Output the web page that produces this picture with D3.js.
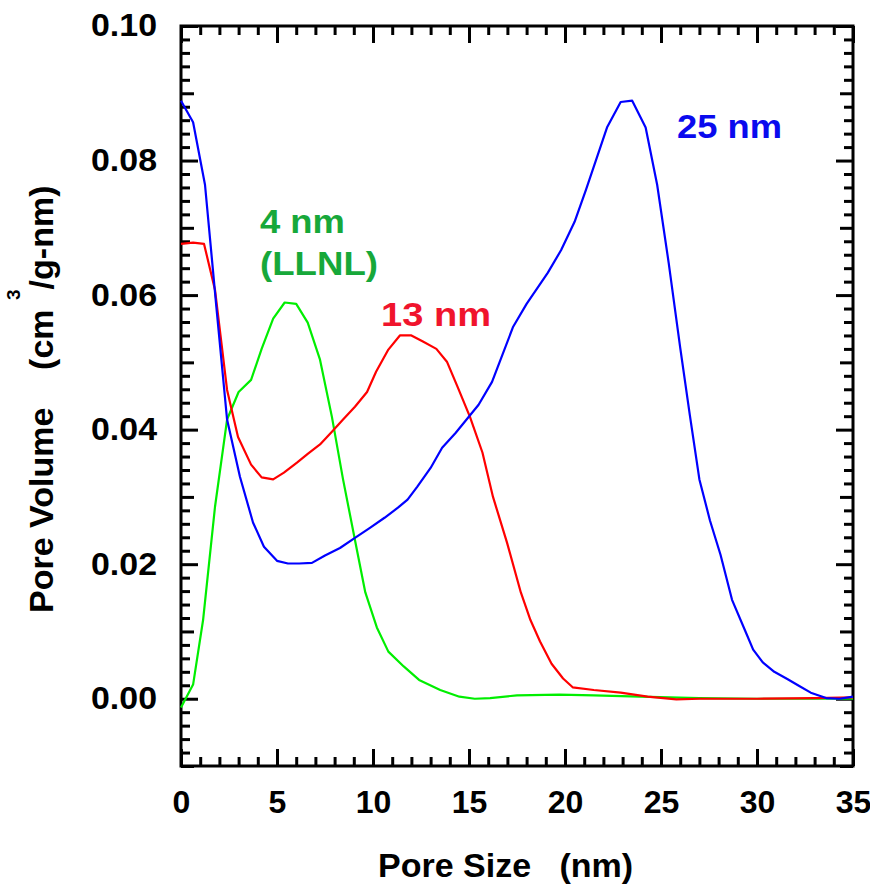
<!DOCTYPE html>
<html>
<head>
<meta charset="utf-8">
<script src="https://cdn.jsdelivr.net/npm/d3@7"></script>
<style>
  body { margin: 0; background: #fff; }
  svg { display: block; font-family: "Liberation Sans", Arial, sans-serif; font-weight: bold; }
</style>
</head>
<body>
<script>
// pore size distributions
const size25 = [0, 0.63, 1.25, 1.85, 2.4, 3.07, 3.75, 4.32, 5.0, 5.57, 6.15, 6.82, 7.5, 8.28, 9.06, 9.84, 10.6, 11.3, 11.8, 12.3, 13.0, 13.6, 14.3, 15.5, 16.2, 17.3, 18.0, 19.1, 19.8, 20.5, 21.1, 22.2, 22.9, 23.5, 24.2, 24.8, 25.4, 26.0, 26.5, 27.0, 27.55, 28.1, 28.7, 29.4, 29.8, 30.3, 30.9, 31.6, 32.2, 32.8, 33.6, 34.3, 35.0]
const vol25 = [0.0889, 0.0857, 0.0764, 0.058, 0.0415, 0.0330, 0.0262, 0.0226, 0.0205, 0.0201, 0.0201, 0.0202, 0.0213, 0.0224, 0.0239, 0.0254, 0.0269, 0.0284, 0.0296, 0.0315, 0.0343, 0.0373, 0.0395, 0.0437, 0.0471, 0.0553, 0.0587, 0.0633, 0.0667, 0.0709, 0.0757, 0.0850, 0.0887, 0.0889, 0.0849, 0.0764, 0.0648, 0.0522, 0.0422, 0.0326, 0.0265, 0.0214, 0.0147, 0.0100, 0.0073, 0.0054, 0.0040, 0.0029, 0.0019, 0.0009, 0.0001, 0.0000, 0.0003]

const size13 = [0, 0.63, 1.2, 1.77, 2.4, 2.97, 3.65, 4.2, 4.8, 5.36, 6.04, 6.6, 7.24, 7.86, 8.44, 9.06, 9.69, 10.16, 10.8, 11.4, 12.0, 12.6, 13.3, 13.85, 14.4, 15.05, 15.7, 16.25, 16.98, 17.7, 18.2, 18.7, 19.3, 19.9, 20.4, 21.5, 22.9, 24.3, 25.8, 27, 30, 33, 35]
const vol13 = [0.0676, 0.0678, 0.0676, 0.0608, 0.0459, 0.0389, 0.0348, 0.0329, 0.0326, 0.0336, 0.0351, 0.0364, 0.0378, 0.0397, 0.0415, 0.0434, 0.0456, 0.0486, 0.0519, 0.0540, 0.0540, 0.0531, 0.0520, 0.0501, 0.0464, 0.0419, 0.0366, 0.0300, 0.0232, 0.0158, 0.0117, 0.0085, 0.0052, 0.0030, 0.0017, 0.0013, 0.0009, 0.0003, -0.0001, 0.0, 0.0, 0.0001, 0.0002]

const size4 = [0, 0.63, 1.15, 1.77, 2.4, 3.0, 3.65, 4.2, 4.8, 5.4, 6.0, 6.6, 7.24, 7.86, 8.44, 9.06, 9.6, 10.2, 10.8, 11.6, 12.4, 13.5, 14.5, 15.3, 16.1, 17.5, 19.7, 21.5, 23.9, 27, 30, 35]
const vol4 = [-0.0013, 0.0021, 0.0117, 0.0285, 0.0415, 0.0456, 0.0474, 0.0520, 0.0565, 0.0589, 0.0587, 0.0559, 0.0504, 0.0419, 0.0326, 0.0236, 0.0158, 0.0106, 0.0070, 0.0048, 0.0028, 0.0013, 0.0003, 0.0, 0.0001, 0.0005, 0.0006, 0.0005, 0.0003, 0.0001, 0.0, 0.0]

const xMajor = [0, 5, 10, 15, 20, 25, 30, 35]
const yMajor = [0, 0.02, 0.04, 0.06, 0.08, 0.10]

const width = 870, height = 885

const svg = d3.select("body").append("svg")
  .attr("width", width)
  .attr("height", height)

const x = d3.scaleLinear().domain([0, 35]).range([181, 853])
const y = d3.scaleLinear().domain([-0.01, 0.10]).range([766, 26])

const xMinor = d3.range(0, 36).filter(d => d % 5 != 0)
const yAll = d3.range(-10, 101, 2).map(d => d / 1000)
const yMid = yAll.filter(d => Math.round(d * 1000) % 10 == 0 && Math.round(d * 1000) % 20 != 0)
const yMinor = yAll.filter(d => Math.round(d * 1000) % 10 != 0)

function tickGroup(axis, tx, ty) {
  const g = svg.append("g")
    .attr("transform", `translate(${tx},${ty})`)
    .call(axis)
  g.select(".domain").remove()
  g.selectAll(".tick line").attr("stroke", "#000").attr("stroke-width", 3)
  return g
}

// bottom + top
const bottom = tickGroup(d3.axisBottom(x).tickValues(xMajor).tickSize(-17).tickPadding(24).tickFormat(d3.format("d")), 0, 766)
tickGroup(d3.axisBottom(x).tickValues(xMinor).tickSize(-9).tickFormat(""), 0, 766)
tickGroup(d3.axisTop(x).tickValues(xMajor).tickSize(-17).tickFormat(""), 0, 26)
tickGroup(d3.axisTop(x).tickValues(xMinor).tickSize(-9).tickFormat(""), 0, 26)

// left + right
const left = tickGroup(d3.axisLeft(y).tickValues(yMajor).tickSize(-17).tickPadding(24).tickFormat(d3.format(".2f")), 181, 0)
tickGroup(d3.axisLeft(y).tickValues(yMid).tickSize(-13).tickFormat(""), 181, 0)
tickGroup(d3.axisLeft(y).tickValues(yMinor).tickSize(-9).tickFormat(""), 181, 0)
tickGroup(d3.axisRight(y).tickValues(yMajor).tickSize(-17).tickFormat(""), 853, 0)
tickGroup(d3.axisRight(y).tickValues(yMid).tickSize(-13).tickFormat(""), 853, 0)
tickGroup(d3.axisRight(y).tickValues(yMinor).tickSize(-9).tickFormat(""), 853, 0)

bottom.selectAll("text")
  .style("font-family", "Liberation Sans, Arial, sans-serif")
  .style("font-weight", "bold")
  .style("font-size", "32px")
  .attr("fill", "#000")
left.selectAll("text")
  .style("font-family", "Liberation Sans, Arial, sans-serif")
  .style("font-weight", "bold")
  .style("font-size", "31px")
  .attr("textLength", 66)
  .attr("lengthAdjust", "spacingAndGlyphs")
  .attr("fill", "#000")

svg.append("rect")
  .attr("x", 181).attr("y", 26)
  .attr("width", 853 - 181).attr("height", 766 - 26)
  .attr("fill", "none")
  .attr("stroke", "#000")
  .attr("stroke-width", 3)

const line = d3.line()
  .x(d => x(d[0]))
  .y(d => y(d[1]))

const series = [
  {sizes: size4, vols: vol4, color: "#00ee00"},
  {sizes: size13, vols: vol13, color: "#ff0000"},
  {sizes: size25, vols: vol25, color: "#0000ff"}
]

svg.selectAll("path.curve").data(series).enter().append("path")
  .attr("class", "curve")
  .attr("d", d => line(d.sizes.map((s, i) => [s, d.vols[i]])))
  .attr("fill", "none")
  .attr("stroke", d => d.color)
  .attr("stroke-width", 2.2)
  .attr("stroke-linejoin", "round")

// curve labels
const labels = [
  {t: "25 nm", x: 677, y: 138, w: 105, c: "#0a0aee"},
  {t: "4 nm", x: 260, y: 233, w: 85, c: "#17a83a"},
  {t: "(LLNL)", x: 260, y: 275, w: 118, c: "#17a83a"},
  {t: "13 nm", x: 381, y: 326, w: 110, c: "#f0142d"}
]
svg.selectAll("text.lbl").data(labels).enter().append("text")
  .attr("class", "lbl")
  .attr("x", d => d.x)
  .attr("y", d => d.y)
  .attr("textLength", d => d.w)
  .attr("lengthAdjust", "spacingAndGlyphs")
  .attr("fill", d => d.c)
  .style("font-size", "33px")
  .text(d => d.t)

// axis titles
svg.append("text")
  .attr("x", 378)
  .attr("y", 877)
  .attr("xml:space", "preserve")
  .style("white-space", "pre")
  .style("font-size", "34px")
  .text("Pore Size   (nm)")

const yt = svg.append("text")
  .attr("transform", "translate(53,613) rotate(-90)")
  .attr("xml:space", "preserve")
  .style("white-space", "pre")
  .style("font-size", "34px")
yt.append("tspan").text("Pore Volume    (cm ")
yt.append("tspan").attr("dy", -33).style("font-size", "19px").text("3")
yt.append("tspan").attr("dy", 33).text("/g-nm)")
</script>
</body>
</html>
